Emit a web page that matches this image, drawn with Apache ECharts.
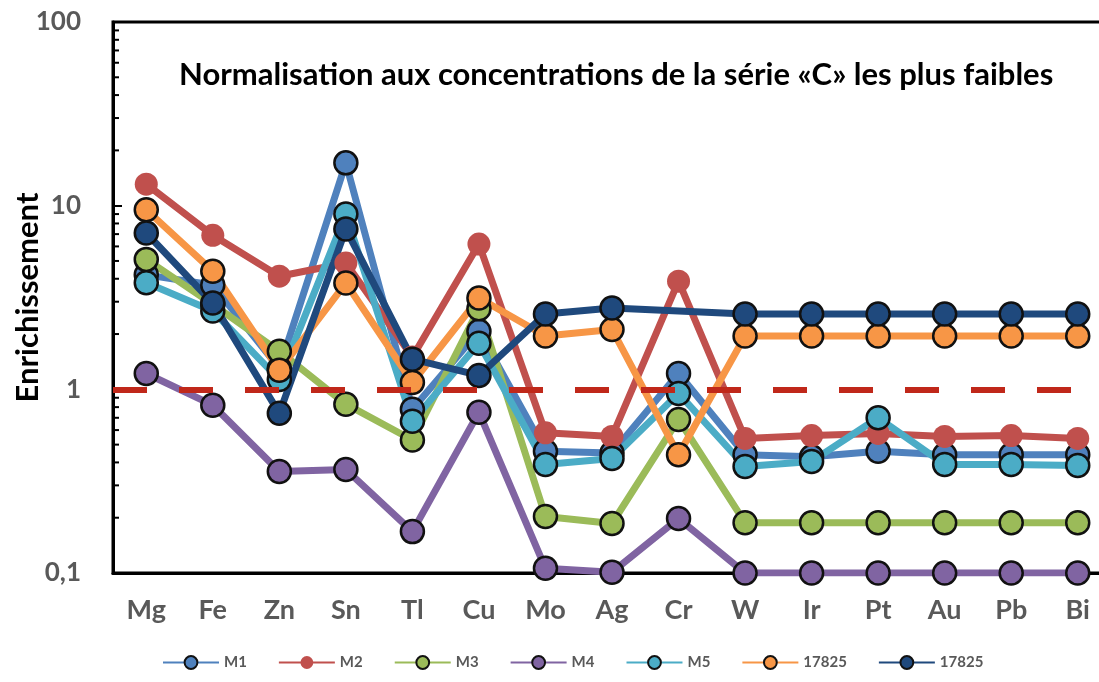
<!DOCTYPE html>
<html>
<head>
<meta charset="utf-8">
<script src="https://cdn.jsdelivr.net/npm/echarts@6/dist/echarts.min.js"></script>
<style>
  html, body { margin: 0; padding: 0; background: #fff; }
  #chart { width: 1099px; height: 682px; }
</style>
</head>
<body>
<div id="chart"></div>
<script>
// catégories (éléments)
var categories = ['Mg', 'Fe', 'Zn', 'Sn', 'Tl', 'Cu', 'Mo', 'Ag', 'Cr', 'W', 'Ir', 'Pt', 'Au', 'Pb', 'Bi'];

// valeurs
var valM1 = [4.2, 3.7, 1.3, 17.1, 0.78, 2.07, 0.46, 0.45, 1.22, 0.44, 0.43, 0.46, 0.44, 0.44, 0.44];
var valM2 = [13.1, 6.9, 4.13, 4.87, 1.5, 6.18, 0.58, 0.554, 3.88, 0.54, 0.56, 0.575, 0.554, 0.56, 0.54];
var valM3 = [5.1, 2.9, 1.61, 0.83, 0.53, 2.75, 0.203, 0.186, 0.686, 0.188, 0.188, 0.188, 0.188, 0.188, 0.188];
var valM4 = [1.22, 0.82, 0.357, 0.366, 0.168, 0.75, 0.106, 0.101, 0.198, 0.1, 0.1, 0.1, 0.1, 0.1, 0.1];
var valM5 = [3.8, 2.67, 1.13, 9.0, 0.67, 1.78, 0.39, 0.42, 0.95, 0.38, 0.405, 0.70, 0.39, 0.39, 0.385];
var val17825a = [9.5, 4.4, 1.27, 3.79, 1.09, 3.14, 1.95, 2.12, 0.44, 1.95, 1.95, 1.95, 1.95, 1.95, 1.95];
var val17825b = [7.1, 2.95, 0.74, 7.46, 1.46, 1.19, 2.57, 2.77, null, 2.57, 2.57, 2.57, 2.57, 2.57, 2.57];

// graduations de l'axe log
var yMajorTicks = [0.1, 1, 10, 100];
var yMinorSteps = [2, 3, 4, 5, 6, 7, 8, 9];
var refLevel = 1;

var FONT = 'Lato, "Open Sans", sans-serif';

var minorTicks = [];
yMajorTicks.slice(0, -1).forEach(function (m) {
    yMinorSteps.forEach(function (s) { minorTicks.push([0, +(m * s).toPrecision(3)]); });
});

function makeSeries(name, color, data, border) {
    return {
        name: name,
        type: 'line',
        data: data,
        connectNulls: true,
        symbol: 'circle',
        symbolSize: 23,
        lineStyle: { color: color, width: 7 },
        itemStyle: {
            color: color,
            borderColor: border ? '#111' : color,
            borderWidth: border ? 2.5 : 0
        },
        emphasis: { disabled: true },
        z: 3
    };
}

var chart = echarts.init(document.getElementById('chart'), null, { renderer: 'canvas' });

var series = [
    makeSeries('M1', '#4F81BD', valM1, true),
    makeSeries('M2', '#C0504D', valM2, false),
    makeSeries('M3', '#9BBB59', valM3, true),
    makeSeries('M4', '#8064A2', valM4, true),
    makeSeries('M5', '#4BACC6', valM5, true),
    makeSeries('17825', '#F79646', val17825a, true),
    makeSeries('17825 ', '#1F497D', val17825b, true)
];

// ligne de référence en tirets rouges
series[0].markLine = {
    silent: true,
    symbol: ['none', 'none'],
    label: { show: false },
    lineStyle: { color: '#C0281A', width: 6, type: [34, 32] },
    data: [{ yAxis: refLevel }]
};

// petites graduations de l'axe log
series.push({
    type: 'custom',
    name: 'minor',
    data: minorTicks,
    silent: true,
    z: 5,
    renderItem: function (params, api) {
        var p = api.coord([0, api.value(1)]);
        var x0 = params.coordSys.x;
        return {
            type: 'line',
            shape: { x1: x0, y1: p[1], x2: x0 + 6, y2: p[1] },
            style: { stroke: '#000', lineWidth: 2 }
        };
    }
});

var option = {
    backgroundColor: '#fff',
    animation: false,
    title: {
        text: 'Normalisation aux concentrations de la série «C» les plus faibles',
        left: 174,
        top: 54,
        textStyle: { fontFamily: FONT, fontSize: 31, fontWeight: 'bold', color: '#000' }
    },
    legend: {
        data: ['M1', 'M2', 'M3', 'M4', 'M5', '17825', '17825 '],
        left: 157,
        top: 650,
        itemWidth: 56,
        itemHeight: 16,
        itemGap: 31,
        textStyle: { fontFamily: FONT, fontSize: 15, fontWeight: 'bold', color: '#595959' }
    },
    grid: {
        left: 113,
        top: 22,
        width: 998,
        height: 551,
        outerBoundsMode: 'none',
        containLabel: false,
        show: true,
        borderColor: '#000',
        borderWidth: 3
    },
    xAxis: {
        type: 'category',
        data: categories,
        boundaryGap: true,
        axisLine: { lineStyle: { color: '#000', width: 3 } },
        axisTick: { inside: true, length: 8, lineStyle: { color: '#000', width: 2 } },
        axisLabel: { margin: 24, fontFamily: FONT, fontSize: 27, fontWeight: 'bold', color: '#595959' },
        splitLine: { show: false }
    },
    yAxis: {
        type: 'log',
        logBase: 10,
        min: 0.1,
        max: 100,
        name: 'Enrichissement',
        nameLocation: 'middle',
        nameGap: 70,
        nameMoveOverlap: false,
        nameTextStyle: { fontFamily: FONT, fontSize: 31, fontWeight: 'bold', color: '#000' },
        axisLine: { show: true, lineStyle: { color: '#000', width: 3 } },
        axisTick: { show: true, inside: true, length: 9, lineStyle: { color: '#000', width: 2 } },
        axisLabel: {
            margin: 32,
            fontFamily: FONT,
            fontSize: 26,
            fontWeight: 'bold',
            color: '#595959',
            formatter: function (v) { return String(v).replace('.', ','); }
        },
        splitLine: { show: false }
    },
    series: series
};

chart.setOption(option);
</script>
</body>
</html>
